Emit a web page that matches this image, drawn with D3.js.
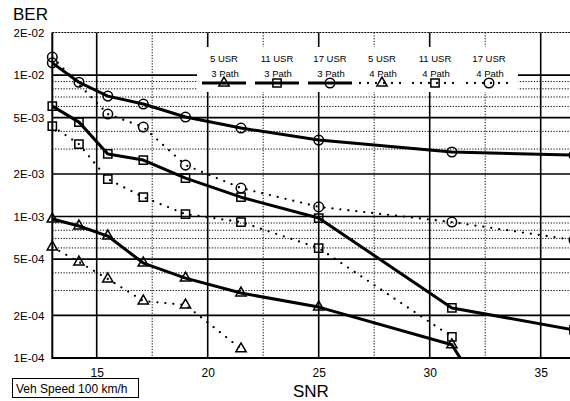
<!DOCTYPE html>
<html>
<head>
<meta charset="utf-8">
<script src="https://cdn.jsdelivr.net/npm/d3@7"></script>
<style>
body { margin: 0; background: #fff; }
svg { display: block; font-family: "Liberation Sans", Arial, Helvetica, sans-serif; }
</style>
</head>
<body>
<div id="chart"></div>
<script>
// values (SNR in dB, BER)
var snr_17u_3p = [13, 14.2, 15.5, 17.1, 19, 21.5, 25, 31, 36.5]
var ber_17u_3p = [1.22e-2, 8.9e-3, 7.1e-3, 6.24e-3, 5.05e-3, 4.22e-3, 3.47e-3, 2.86e-3, 2.72e-3]
var snr_17u_4p = [13, 15.5, 17.1, 19, 21.5, 25, 31, 36.5]
var ber_17u_4p = [1.34e-2, 5.3e-3, 4.29e-3, 2.31e-3, 1.59e-3, 1.17e-3, 9.14e-4, 6.82e-4]
var snr_11u_3p = [13, 14.2, 15.5, 17.1, 19, 21.5, 25, 31, 36.5]
var ber_11u_3p = [6.04e-3, 4.65e-3, 2.77e-3, 2.51e-3, 1.87e-3, 1.37e-3, 9.76e-4, 2.26e-4, 1.58e-4]
var snr_11u_4p = [13, 14.2, 15.5, 17.1, 19, 21.5, 25, 31]
var ber_11u_4p = [4.36e-3, 3.25e-3, 1.84e-3, 1.37e-3, 1.04e-3, 9.14e-4, 5.99e-4, 1.41e-4]
var snr_5u_3p = [13, 14.2, 15.5, 17.1, 19, 21.5, 25, 31, 32.5]
var ber_5u_3p = [9.6e-4, 8.57e-4, 7.28e-4, 4.69e-4, 3.67e-4, 2.88e-4, 2.29e-4, 1.24e-4, 5.2e-5]
var snr_5u_4p = [13, 14.2, 15.5, 17.1, 19, 21.5]
var ber_5u_4p = [6.09e-4, 4.77e-4, 3.62e-4, 2.53e-4, 2.37e-4, 1.16e-4]

var legendUsers = ["5 USR", "11 USR", "17 USR", "5 USR", "11 USR", "17 USR"]
var legendPaths = ["3 Path", "3 Path", "3 Path", "4 Path", "4 Path", "4 Path"]

var xTicks = [15, 20, 25, 30, 35]
var yTicks = [2e-2, 1e-2, 5e-3, 2e-3, 1e-3, 5e-4, 2e-4, 1e-4]
var yTickLabels = ["2E-02", "1E-02", "5E-03", "2E-03", "1E-03", "5E-04", "2E-04", "1E-04"]

var width = 570, height = 401
var plot = {left: 52.3, right: 585.1, top: 32.5, bottom: 358}

var series = [
	{snr: snr_5u_3p, ber: ber_5u_3p, marker: d3.symbolTriangle, dotted: false},
	{snr: snr_11u_3p, ber: ber_11u_3p, marker: d3.symbolSquare, dotted: false},
	{snr: snr_17u_3p, ber: ber_17u_3p, marker: d3.symbolCircle, dotted: false},
	{snr: snr_5u_4p, ber: ber_5u_4p, marker: d3.symbolTriangle, dotted: true},
	{snr: snr_11u_4p, ber: ber_11u_4p, marker: d3.symbolSquare, dotted: true},
	{snr: snr_17u_4p, ber: ber_17u_4p, marker: d3.symbolCircle, dotted: true}
]
var markerSize = new Map([[d3.symbolTriangle, 46], [d3.symbolSquare, 68], [d3.symbolCircle, 72]])

var x = d3.scaleLinear().domain([13, 37]).range([plot.left, plot.right])
var y = d3.scaleLog().domain([1e-4, 2e-2]).range([plot.bottom, plot.top])

var svg = d3.select("#chart").append("svg")
	.attr("width", width)
	.attr("height", height)

svg.append("defs").append("clipPath").attr("id", "plot-clip")
	.append("rect")
		.attr("x", plot.left).attr("y", plot.top)
		.attr("width", plot.right - plot.left).attr("height", plot.bottom - plot.top)

// horizontal grid: solid at 1,2,5 - dotted at the rest
var gridValues = []
for (var e = -4; e <= -2; e++) {
	for (var m = 1; m <= 9; m++) {
		var v = m * Math.pow(10, e)
		if (v > 1e-4 * 1.0001 && v < 2e-2 * 0.999) gridValues.push({v: v, major: [1, 2, 5].indexOf(m) >= 0})
	}
}
var grid = svg.append("g").attr("class", "grid")
grid.selectAll("line.h")
	.data(gridValues)
	.enter().append("line")
		.attr("x1", plot.left).attr("x2", width)
		.attr("y1", (d) => y(d.v)).attr("y2", (d) => y(d.v))
		.attr("stroke", "#000")
		.attr("stroke-width", (d) => d.major ? 1.6 : 1)
		.attr("stroke-dasharray", (d) => d.major ? null : "1.2,1.6")

var xGrid = []
for (var s = 15; s <= 37; s += 2.5) xGrid.push({v: s, major: s % 5 == 0})
grid.selectAll("line.v")
	.data(xGrid)
	.enter().append("line")
		.attr("x1", (d) => x(d.v)).attr("x2", (d) => x(d.v))
		.attr("y1", plot.top).attr("y2", plot.bottom)
		.attr("stroke", "#000")
		.attr("stroke-width", (d) => d.major ? 1.6 : 1)
		.attr("stroke-dasharray", (d) => d.major ? null : "1.2,1.6")

// top edge
grid.append("line")
	.attr("x1", plot.left).attr("x2", width)
	.attr("y1", y(2e-2)).attr("y2", y(2e-2))
	.attr("stroke", "#000").attr("stroke-width", 1)
	.attr("stroke-dasharray", "2,1")

// legend background hides the grid behind it
var legendX = [224, 277, 330, 382, 435, 489]
svg.append("rect")
	.attr("x", 197).attr("y", 47)
	.attr("width", 321).attr("height", 45)
	.attr("fill", "#fff")

// axes
var yAxis = d3.axisLeft(y).tickValues(yTicks)
	.tickFormat((d, i) => yTickLabels[i])
	.tickSize(0).tickPadding(8)
svg.append("g")
	.attr("transform", "translate(" + plot.left + ",0)")
	.call(yAxis)
	.call((g) => g.select(".domain").remove())
	.selectAll("text").attr("font-size", 11.5).attr("font-family", null).attr("fill", "#000")

var xAxis = d3.axisBottom(x).tickValues(xTicks).tickSize(0).tickPadding(10)
svg.append("g")
	.attr("transform", "translate(0," + plot.bottom + ")")
	.call(xAxis)
	.call((g) => g.select(".domain").remove())
	.selectAll("text").attr("font-size", 12).attr("font-family", null).attr("fill", "#000")

svg.append("line")
	.attr("x1", plot.left).attr("x2", plot.left)
	.attr("y1", plot.top).attr("y2", plot.bottom + 1)
	.attr("stroke", "#000").attr("stroke-width", 2)
svg.append("line")
	.attr("x1", plot.left).attr("x2", width)
	.attr("y1", plot.bottom).attr("y2", plot.bottom)
	.attr("stroke", "#000").attr("stroke-width", 2.2)

// series
var line = d3.line().x((d) => x(d[0])).y((d) => y(d[1]))
var data = svg.append("g")
series.forEach(function (sr) {
	var pts = sr.snr.map((s, i) => [s, sr.ber[i]])
	data.append("path")
		.attr("d", line(pts))
		.attr("clip-path", "url(#plot-clip)")
		.attr("fill", "none")
		.attr("stroke", "#000")
		.attr("stroke-width", sr.dotted ? 2.3 : 3)
		.attr("stroke-linecap", sr.dotted ? "round" : "butt")
		.attr("stroke-linejoin", "round")
		.attr("stroke-dasharray", sr.dotted ? "0,8" : null)
	data.selectAll(null)
		.data(pts.filter((p) => p[1] >= 1e-4))
		.enter().append("path")
			.attr("transform", (p) => "translate(" + x(p[0]) + "," + y(p[1]) + ")")
			.attr("d", d3.symbol().type(sr.marker).size(markerSize.get(sr.marker)))
			.attr("fill", "none")
			.attr("stroke", "#000")
			.attr("stroke-width", 1.5)
})

// legend
var legend = svg.append("g").attr("font-size", 9.5).attr("text-anchor", "middle")
series.forEach(function (sr, i) {
	var cx = legendX[i]
	legend.append("text").attr("x", cx).attr("y", 62).text(legendUsers[i])
	legend.append("text").attr("x", cx + 1).attr("y", 76.5).text(legendPaths[i])
	legend.append("line")
		.attr("x1", cx - 22).attr("x2", cx + 22)
		.attr("y1", 83).attr("y2", 83)
		.attr("stroke", "#000")
		.attr("stroke-width", sr.dotted ? 2.3 : 3)
		.attr("stroke-linecap", sr.dotted ? "round" : "butt")
		.attr("stroke-dasharray", sr.dotted ? "0,8" : null)
	legend.append("path")
		.attr("transform", "translate(" + cx + ",83)")
		.attr("d", d3.symbol().type(sr.marker).size(markerSize.get(sr.marker)))
		.attr("fill", "none").attr("stroke", "#000").attr("stroke-width", 1.5)
})

// titles
svg.append("text").attr("x", 13).attr("y", 19.5).attr("font-size", 17).text("BER")
svg.append("text").attr("x", 293).attr("y", 397).attr("font-size", 17).text("SNR")

svg.append("rect")
	.attr("x", 12.5).attr("y", 378.5)
	.attr("width", 126).attr("height", 19)
	.attr("fill", "none").attr("stroke", "#000").attr("stroke-width", 1)
svg.append("text").attr("x", 16).attr("y", 393).attr("font-size", 12).text("Veh Speed 100 km/h")
</script>
</body>
</html>
